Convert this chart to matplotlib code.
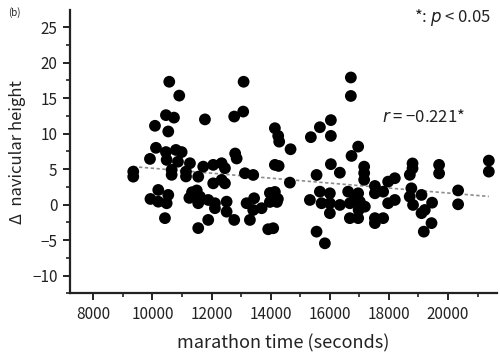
import numpy as np
import matplotlib
matplotlib.use("Agg")
from matplotlib import pyplot as plt
from matplotlib.ticker import MultipleLocator

plt.rcParams["font.family"] = ["Noto Sans CJK JP", "DejaVu Sans"]

# marathon time (s) and change in navicular height
marathon_time = [
    9352, 9352, 9917, 10086, 10120, 10458, 10570, 10729, 10536, 10458,
    10796, 10989, 10482, 10864, 10908, 10651, 10651,
    10198, 10536, 9934, 10198, 10482, 10424,
    11136, 11136, 11269, 11250, 11340, 11500, 11608, 11550,
    11550, 11888, 11550, 11719, 11777,
    12057, 12341, 12453, 12057, 12341, 12453,
    11888, 12115, 12115, 12510, 12510, 12767,
    12800, 12850, 12767, 13071, 13085,
    13129, 13410, 13186, 13440, 13410, 13694, 13298,
    14143, 14270, 14143, 14255, 14289,
    13974, 14143, 14244, 13974, 14211, 13917, 14086,
    14650, 14673, 15327, 15360, 15665, 16037, 16037,
    15553, 15665, 16003, 15722, 16003, 16003, 15553, 15834,
    16037, 16341, 16341,
    16622, 16679, 16848, 16960, 17017, 17186, 16976,
    16679, 16960, 16713, 16713, 16736, 16960,
    17163, 17163, 17163,
    17526, 17526, 17526, 17526, 17806, 17806,
    17974, 18200, 17974, 18200,
    18799, 18799, 18708,
    18760, 18704, 18816, 19103,
    19103, 19214, 19461, 19441, 19181,
    19698, 19698, 20341, 20341, 21380, 21380,
]
delta_height = [
    4.65, 3.94, 6.44, 11.1, 8.0, 12.6, 17.3, 12.25, 10.3, 7.4,
    7.7, 7.4, 6.3, 6.05, 15.35, 4.9, 4.2,
    2.07, 1.37, 0.8, 0.42, 0.2, -1.9,
    4.65, 3.97, 5.83, 0.95, 1.75, 2.0, 1.13, 0.2,
    -3.3, -2.15, 3.94, 5.35, 12.0,
    5.6, 5.83, 5.13, 3.0, 3.48, 3.0,
    0.66, 0.2, -0.5, 0.42, -0.99, -2.15,
    7.2, 6.5, 12.4, 13.1, 17.3,
    4.42, 4.18, 0.2, 0.9, -0.75, -0.5, -2.15,
    5.6, 5.45, 10.76, 9.68, 8.87,
    1.65, 1.79, 0.8, 0.38, 0.38, -3.46, -3.32,
    3.1, 7.8, 0.66, 9.5, 10.9, 11.9, 9.68,
    4.18, 1.83, 1.6, 0.2, 0.2, -1.2, -3.8, -5.44,
    5.7, 4.5, -0.04,
    1.83, 0.2, 1.13, 1.6, 0.42, -0.28, -0.75,
    -1.9, -1.9, 17.9, 15.3, 6.86, 8.17,
    5.35, 4.45, 3.5,
    2.63, 1.6, -1.9, -2.6, -1.9, 1.83,
    3.24, 3.72, 0.2, 0.66,
    5.8, 5.1, 4.2,
    2.3, 1.13, -0.04, 1.37,
    -1.2, -0.75, 0.28, -2.6, -3.8,
    5.6, 4.4, 2.0, 0.05, 6.2, 4.65,
]

x_ticks = [8000, 10000, 12000, 14000, 16000, 18000, 20000]
y_ticks = [-10, -5, 0, 5, 10, 15, 20, 25]

x = np.array(marathon_time, dtype=float)
y = np.array(delta_height, dtype=float)

fig = plt.figure(figsize=(5.0, 3.57), dpi=100)
ax = fig.add_axes([0.14, 0.178, 0.853, 0.794])

ax.scatter(x, y, s=72, color="black", edgecolors="none", zorder=3)

# least-squares trend line
slope, intercept = np.polyfit(x, y, 1)
xs = np.array([x.min(), x.max()])
ax.plot(xs, slope * xs + intercept, color="#8c8c8c", linewidth=1.2,
        linestyle=(0, (2, 1.5)), zorder=2)

ax.set_xlim(7212, 21640)
ax.set_ylim(-12.5, 27.4)
ax.set_xticks(x_ticks)
ax.set_yticks(y_ticks)
ax.xaxis.set_minor_locator(MultipleLocator(1000))
ax.yaxis.set_minor_locator(MultipleLocator(2.5))
ax.set_yticklabels([str(v).replace("-", "\u2212") for v in y_ticks])

for side in ("top", "right"):
    ax.spines[side].set_visible(False)
for side in ("left", "bottom"):
    ax.spines[side].set_linewidth(1.6)
    ax.spines[side].set_color("#222222")
ax.tick_params(which="major", length=5, width=1.4, labelsize=11,
               colors="#222222", pad=4)
ax.tick_params(which="minor", length=3, width=1.2, colors="#222222")

ax.set_xlabel("marathon time (seconds)", fontsize=13, color="#222222",
              labelpad=8)
ax.set_ylabel("\u0394  navicular height", fontsize=12, color="#222222",
              labelpad=4)

ax.text(17780, 12.2, r"$\it{r}$" + " = \u22120.221*", fontsize=12,
        color="#222222", va="center", ha="left")
ax.text(18850, 26.3, "*: " + r"$\it{p}$" + " < 0.05", fontsize=12,
        color="#222222", va="center", ha="left")
fig.text(0.016, 0.965, "(b)", fontsize=7, color="#222222", va="center")

fig.savefig("out.png", dpi=100)
plt.close(fig)
